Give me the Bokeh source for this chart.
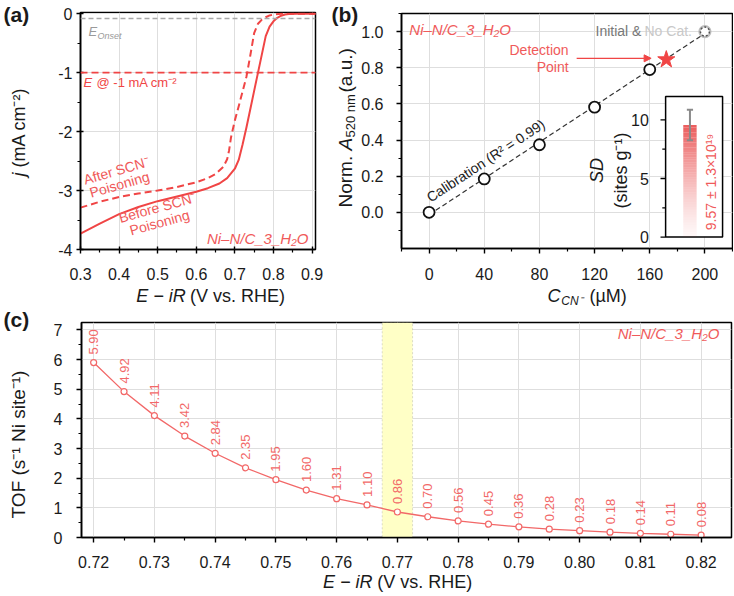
import math
import numpy as np
from bokeh.plotting import figure
from bokeh.models import (Label, Span, Arrow, NormalHead, BoxAnnotation,
                          FixedTicker, NumeralTickFormatter, Range1d, ColumnDataSource)
from bokeh.layouts import row, column
from bokeh.embed import file_html
from bokeh.resources import INLINE
from bokeh.core.properties import value

# ---------------- data ----------------
# (a) LSV curves
before_E = [0.30, 0.35, 0.40, 0.45, 0.50, 0.55, 0.60, 0.63, 0.66, 0.68, 0.70, 0.71, 0.72, 0.73,
            0.74, 0.75, 0.76, 0.77, 0.78, 0.79, 0.80, 0.81, 0.82, 0.83, 0.84, 0.86, 0.88, 0.91]
before_j = [-3.73, -3.56, -3.40, -3.28, -3.18, -3.10, -3.02, -2.96, -2.88, -2.79, -2.63, -2.48, -2.22, -1.93,
            -1.62, -1.31, -1.00, -0.69, -0.38, -0.22, -0.13, -0.07, -0.035, -0.015, -0.005, 0.0, 0.0, 0.0]
after_E = [0.30, 0.35, 0.40, 0.45, 0.50, 0.55, 0.60, 0.63, 0.65, 0.67, 0.68, 0.685, 0.69, 0.70, 0.71,
           0.72, 0.73, 0.74, 0.75, 0.76, 0.77, 0.78, 0.79, 0.80, 0.82, 0.85, 0.88, 0.91]
after_j = [-3.29, -3.19, -3.11, -3.05, -3.00, -2.94, -2.86, -2.79, -2.72, -2.60, -2.47, -2.32, -2.10, -1.81, -1.57,
           -1.32, -1.07, -0.71, -0.33, -0.17, -0.10, -0.06, -0.03, -0.015, -0.003, 0.0, 0.0, 0.0]
onset_j = -0.08
ref_j = -1.0

# (b) calibration
calib_conc = [0, 40, 80, 120, 160]
calib_abs = [0.0, 0.185, 0.374, 0.582, 0.79]
initial_conc = [200]
initial_abs = [1.0]
detect_conc = [172]
detect_abs = [0.845]
sd_mean = [9.57]
sd_err = [1.3]

# (c) TOF
tof_E = [0.720, 0.725, 0.730, 0.735, 0.740, 0.745, 0.750, 0.755, 0.760, 0.765, 0.770,
         0.775, 0.780, 0.785, 0.790, 0.795, 0.800, 0.805, 0.810, 0.815, 0.820]
tof_val = [5.90, 4.92, 4.11, 3.42, 2.84, 2.35, 1.95, 1.60, 1.31, 1.10, 0.86,
           0.70, 0.56, 0.45, 0.36, 0.28, 0.23, 0.18, 0.14, 0.11, 0.08]
tof_label = ["5.90", "4.92", "4.11", "3.42", "2.84", "2.35", "1.95", "1.60", "1.31", "1.10", "0.86",
             "0.70", "0.56", "0.45", "0.36", "0.28", "0.23", "0.18", "0.14", "0.11", "0.08"]
band_E = [0.7675, 0.7725]

# ---------------- style ----------------
FONT = "Liberation Sans"
RED = "#f04545"
RED_T = "#f05a5a"
RED_C = "#f26868"
GRID = "#dedede"
HALF_PI = math.pi / 2


def base_fig(w, h, bl, br, bt, bb, xr, yr):
    p = figure(width=w, height=h, output_backend="svg", toolbar_location=None,
               x_range=Range1d(*xr), y_range=Range1d(*yr), min_border=0,
               min_border_left=bl, min_border_right=br, min_border_top=bt, min_border_bottom=bb)
    p.outline_line_color = "black"
    p.outline_line_width = 1.5
    p.background_fill_color = "white"
    p.border_fill_color = "white"
    return p


def strip(w, h):
    s = figure(width=w, height=h, output_backend="svg", toolbar_location=None,
               x_range=Range1d(0, w), y_range=Range1d(0, h), x_axis_type=None, y_axis_type=None,
               min_border=0, min_border_left=0, min_border_right=0, min_border_top=0,
               min_border_bottom=0)
    s.outline_line_color = None
    s.background_fill_color = "white"
    s.border_fill_color = "white"
    return s


def style_axes(p, xt, xm, yt, ym, xfmt, yfmt, tin=0, tout=5, xstand=12, ystand=8):
    p.xaxis.ticker = FixedTicker(ticks=xt, minor_ticks=xm)
    p.yaxis.ticker = FixedTicker(ticks=yt, minor_ticks=ym)
    p.xgrid.ticker = FixedTicker(ticks=xt)
    p.ygrid.ticker = FixedTicker(ticks=yt)
    p.xaxis.formatter = NumeralTickFormatter(format=xfmt)
    p.yaxis.formatter = NumeralTickFormatter(format=yfmt)
    for g in (p.xgrid, p.ygrid):
        g.grid_line_color = GRID
        g.grid_line_width = 1
    for ax in (p.xaxis[0], p.yaxis[0]):
        ax.axis_line_width = 1.6
        ax.axis_line_color = "black"
        ax.major_tick_line_width = 1.4
        ax.minor_tick_line_width = 1.2
        ax.major_tick_in = tin
        ax.major_tick_out = tout
        ax.minor_tick_in = 0
        ax.minor_tick_out = 3
        ax.major_label_text_font = FONT
        ax.major_label_text_font_size = "16px"
        ax.major_label_text_color = "#1a1a1a"
    p.xaxis.major_label_standoff = xstand
    p.yaxis.major_label_standoff = ystand


def mk_label(x, y, text, size, color, style, angle, align, baseline, units="data"):
    return Label(x=x, y=y, x_units=units, y_units=units, text=text, text_font=FONT,
                 text_font_size=f"{size}px", text_color=color, text_font_style=style,
                 angle=angle, text_align=align, text_baseline=baseline)


def plab(p, frame, X, Y, text, size=14, color="#1a1a1a", style="normal", angle=0.0,
         align="left", baseline="middle"):
    """Label at absolute page pixel (X, Y), inside the frame whose left/bottom is `frame`."""
    p.add_layout(mk_label(X - frame[0], frame[1] - Y, text, size, color, style, angle,
                          align, baseline, units="screen"))


def slab(s, origin, X, Y, text, size=18, color="#1a1a1a", style="normal", angle=0.0,
         align="left", baseline="middle"):
    """Label at absolute page pixel (X, Y) on a text strip whose top-left is `origin`."""
    x0, y0, h = origin
    s.add_layout(mk_label(X - x0, h - (Y - y0), text, size, color, style, angle, align, baseline))


def dlab(p, x, y, text, size=14, color="#1a1a1a", style="normal", angle=0.0,
         align="left", baseline="middle"):
    p.add_layout(mk_label(x, y, text, size, color, style, angle, align, baseline))


# ================= (a) =================
pa = base_fig(290, 282, 40, 15, 12, 33, (0.3, 0.909), (-4.0, 0.02))
FA = (80, 249)
style_axes(pa, [0.3, 0.4, 0.5, 0.6, 0.7, 0.8, 0.9], [0.35, 0.45, 0.55, 0.65, 0.75, 0.85],
           [-4, -3, -2, -1, 0], [-3.5, -2.5, -1.5, -0.5], "0.0", "0",
           tin=3, tout=4, xstand=14, ystand=4)

pa.add_layout(Span(location=onset_j, dimension="width", line_color="#a8a8a8",
                   line_dash="5 3", line_width=1.5))
pa.add_layout(Span(location=ref_j, dimension="width", line_color=RED,
                   line_dash="7 4", line_width=1.8))
pa.line(after_E, after_j, line_color=RED, line_width=2, line_dash="7 4")
pa.line(before_E, before_j, line_color=RED, line_width=2)

plab(pa, FA, 88, 31, "E", size=13, color="#9a9a9a", style="italic")
plab(pa, FA, 97, 35, "Onset", size=9, color="#9a9a9a", style="italic")
plab(pa, FA, 83, 82, "E", size=13, color=RED, style="italic")
plab(pa, FA, 96, 82, "@ -1 mA cm\u207b\u00b2", size=13, color=RED)
plab(pa, FA, 116, 170, "After SCN\u207b", size=14, color=RED_T, angle=0.28, align="center")
plab(pa, FA, 119, 184, "Poisoning", size=14, color=RED_T, angle=0.28, align="center")
plab(pa, FA, 157, 207, "Before SCN\u207b", size=14, color=RED_T, angle=0.27, align="center")
plab(pa, FA, 159, 222, "Poisoning", size=14, color=RED_T, angle=0.27, align="center")
plab(pa, FA, 308, 238, "Ni\u2013N/C_3_H\u2082O", size=15, color=RED_T, style="italic", align="right")

# strips around (a)
sA = strip(40, 308)
OA = (0, 0, 308)
slab(sA, OA, 3, 14, "(a)", size=21, style="bold")
slab(sA, OA, 18, 176, "j", size=18, style="italic", angle=HALF_PI)
slab(sA, OA, 18, 167, "(mA cm\u207b\u00b2)", size=18, angle=HALF_PI)

sAx = strip(290, 26)
OAx = (40, 282, 26)
slab(sAx, OAx, 170, 295, "E \u2212 iR", size=18, style="italic", align="right")
slab(sAx, OAx, 175, 295, "(V vs. RHE)", size=18)

# ================= (b) =================
pb = base_fig(375, 282, 43, 1, 13, 34, (-20, 220), (-0.2, 1.1))
style_axes(pb, [0, 40, 80, 120, 160, 200], [-20, 20, 60, 100, 140, 180, 220],
           [0.0, 0.2, 0.4, 0.6, 0.8, 1.0], [-0.1, 0.1, 0.3, 0.5, 0.7, 0.9, 1.1], "0", "0.0",
           tin=0, tout=5, xstand=14, ystand=13)

all_c = calib_conc + initial_conc
all_a = calib_abs + initial_abs
k, b0 = np.polyfit(all_c, all_a, 1)
fit_x = [min(all_c), max(all_c)]
pb.line(fit_x, [k * x + b0 for x in fit_x], line_color="#333333", line_width=1.2, line_dash="5 3")
pb.scatter(calib_conc, calib_abs, marker="circle", size=11, fill_color="white",
           line_color="#111111", line_width=1.8)
pb.scatter(initial_conc, initial_abs, marker="circle", size=11, fill_color="white",
           line_color="#bdbdbd", line_width=2.2)
pb.scatter(initial_conc, initial_abs, marker="circle", size=9, fill_color=None,
           line_color="#555555", line_width=1.5, line_dash="2 2")
pb.scatter(detect_conc, detect_abs, marker="star", size=18, fill_color=RED, line_color=RED)
pb.add_layout(Arrow(end=NormalHead(size=7, fill_color=RED, line_color=RED),
                    x_start=107, y_start=detect_abs[0] + 0.007, x_end=161, y_end=detect_abs[0] + 0.007,
                    line_color=RED, line_width=1.3))

fw, fh = 375 - 43 - 1, 282 - 13 - 34
ang = math.atan(k * (fh / 1.3) / (fw / 240.0))
dlab(pb, 41, 0.286, "Calibration (R\u00b2 = 0.99)", size=14, angle=ang, align="center")
dlab(pb, -14.3, 1.014, "Ni\u2013N/C_3_H\u2082O", size=15, color=RED_T, style="italic")
dlab(pb, 120.7, 1.005, "Initial &", size=14, color="#777777")
dlab(pb, 156.2, 1.005, "No Cat.", size=14, color="#c8c8c8")
dlab(pb, 101.2, 0.896, "Detection", size=14, color=RED_T, align="right")
dlab(pb, 101.2, 0.802, "Point", size=14, color=RED_T, align="right")

# inset: SD bar
INS = dict(l=171.5, r=212.8, b=-0.137, t=0.641, vmax=12.0)


def iy(v):
    return INS["b"] + v * (INS["t"] - INS["b"]) / INS["vmax"]


pb.quad(left=[INS["l"]], right=[INS["r"]], bottom=[INS["b"]], top=[INS["t"]],
        fill_color="white", line_color="black", line_width=1.5)
nsl = 45
edges = np.linspace(0, sd_mean[0], nsl + 1)
mids = 0.5 * (edges[:-1] + edges[1:])
alphas = 0.04 + 0.84 * (mids / sd_mean[0]) ** 1.3
pb.quad(left=[184.3] * nsl, right=[194.0] * nsl, bottom=[iy(v) for v in edges[:-1]],
        top=[iy(v) for v in edges[1:]], fill_color="#e84646", fill_alpha=alphas, line_color=None)
lo, hi = sd_mean[0] - sd_err[0], sd_mean[0] + sd_err[0]
pb.segment(x0=[189.15], y0=[iy(lo)], x1=[189.15], y1=[iy(hi)], line_color="#8a8a8a", line_width=2)
pb.segment(x0=[186.9, 186.9], y0=[iy(lo), iy(hi)], x1=[191.4, 191.4], y1=[iy(lo), iy(hi)],
           line_color="#8a8a8a", line_width=2)
tick_major = [0, 5, 10]
tick_minor = [2.5, 7.5]
pb.segment(x0=[INS["l"] - 3.7] * 3, y0=[iy(v) for v in tick_major], x1=[INS["l"]] * 3,
           y1=[iy(v) for v in tick_major], line_color="black", line_width=1.4)
pb.segment(x0=[INS["l"] - 2.4] * 2, y0=[iy(v) for v in tick_minor], x1=[INS["l"]] * 2,
           y1=[iy(v) for v in tick_minor], line_color="black", line_width=1.2)
for v in tick_major:
    dlab(pb, 159.3, iy(v), str(v), size=16, align="right")
dlab(pb, 121.8, 0.231, "SD", size=18, style="italic", angle=HALF_PI, align="center")
dlab(pb, 139.5, 0.231, "(sites g\u207b\u00b9)", size=18, angle=HALF_PI, align="center")
dlab(pb, 204.1, -0.099, "9.57 \u00b1 1.3\u00d710\u00b9\u2079", size=14, color=RED_T, angle=HALF_PI)

# strips around (b)
sB = strip(28, 308)
OB = (330, 0, 308)
slab(sB, OB, 331, 14, "(b)", size=21, style="bold")
slab(sB, OB, 345, 207, "Norm.", size=19, angle=HALF_PI)
slab(sB, OB, 345, 150, "A", size=19, style="italic", angle=HALF_PI)
slab(sB, OB, 350, 137, "520 nm", size=13, angle=HALF_PI)
slab(sB, OB, 345, 92, "(a.u.)", size=19, angle=HALF_PI)

sBx = strip(375, 26)
OBx = (358, 282, 26)
slab(sBx, OBx, 538, 295, "C", size=18, style="italic", align="right")
slab(sBx, OBx, 539, 300, "CN\u207b", size=12, style="italic")
slab(sBx, OBx, 571, 295, "(\u00b5M)", size=18)

# ================= (c) =================
pc = base_fig(688, 262, 36, 2, 14, 33, (0.718, 0.825), (0.0, 7.25))
style_axes(pc, [0.72, 0.73, 0.74, 0.75, 0.76, 0.77, 0.78, 0.79, 0.80, 0.81, 0.82],
           [0.725, 0.735, 0.745, 0.755, 0.765, 0.775, 0.785, 0.795, 0.805, 0.815],
           [0, 1, 2, 3, 4, 5, 6, 7], [0.5, 1.5, 2.5, 3.5, 4.5, 5.5, 6.5], "0.00", "0",
           tin=0, tout=5, xstand=13, ystand=14)
pc.add_layout(BoxAnnotation(left=band_E[0], right=band_E[1], fill_color="#ffffc6", fill_alpha=1.0,
                            line_color="#8c8c8c", line_dash="2 2", line_width=1, level="underlay"))
pc.line(tof_E, tof_val, line_color=RED_C, line_width=1.3)
pc.scatter(tof_E, tof_val, marker="circle", size=6, fill_color="white", line_color=RED_C, line_width=1.2)
px_per_unit = (262 - 14 - 33) / 7.25
src = ColumnDataSource(dict(x=tof_E, y=[v + 8 / px_per_unit for v in tof_val], t=tof_label))
pc.text(x="x", y="y", text="t", source=src, angle=HALF_PI, text_align="left",
        text_baseline="middle", text_font=value(FONT), text_font_size="13px", text_color=RED_C)
dlab(pc, 0.823, 6.895, "Ni\u2013N/C_3_H\u2082O", size=15, color=RED_T, style="italic", align="right")

sC = strip(45, 287)
OC = (0, 308, 287)
slab(sC, OC, 3, 319, "(c)", size=21, style="bold")
slab(sC, OC, 18, 444, "TOF (s\u207b\u00b9 Ni site\u207b\u00b9)", size=19, angle=HALF_PI, align="center")

sCx = strip(688, 25)
OCx = (45, 570, 25)
slab(sCx, OCx, 353, 581, "E \u2212 iR", size=18, style="italic", align="right")
slab(sCx, OCx, 358, 581, "(V vs. RHE)", size=18)

layout = column(
    row(sA, column(pa, sAx), sB, column(pb, sBx)),
    row(sC, column(pc, sCx)),
)
open("out.html", "w").write(file_html(layout, INLINE))
